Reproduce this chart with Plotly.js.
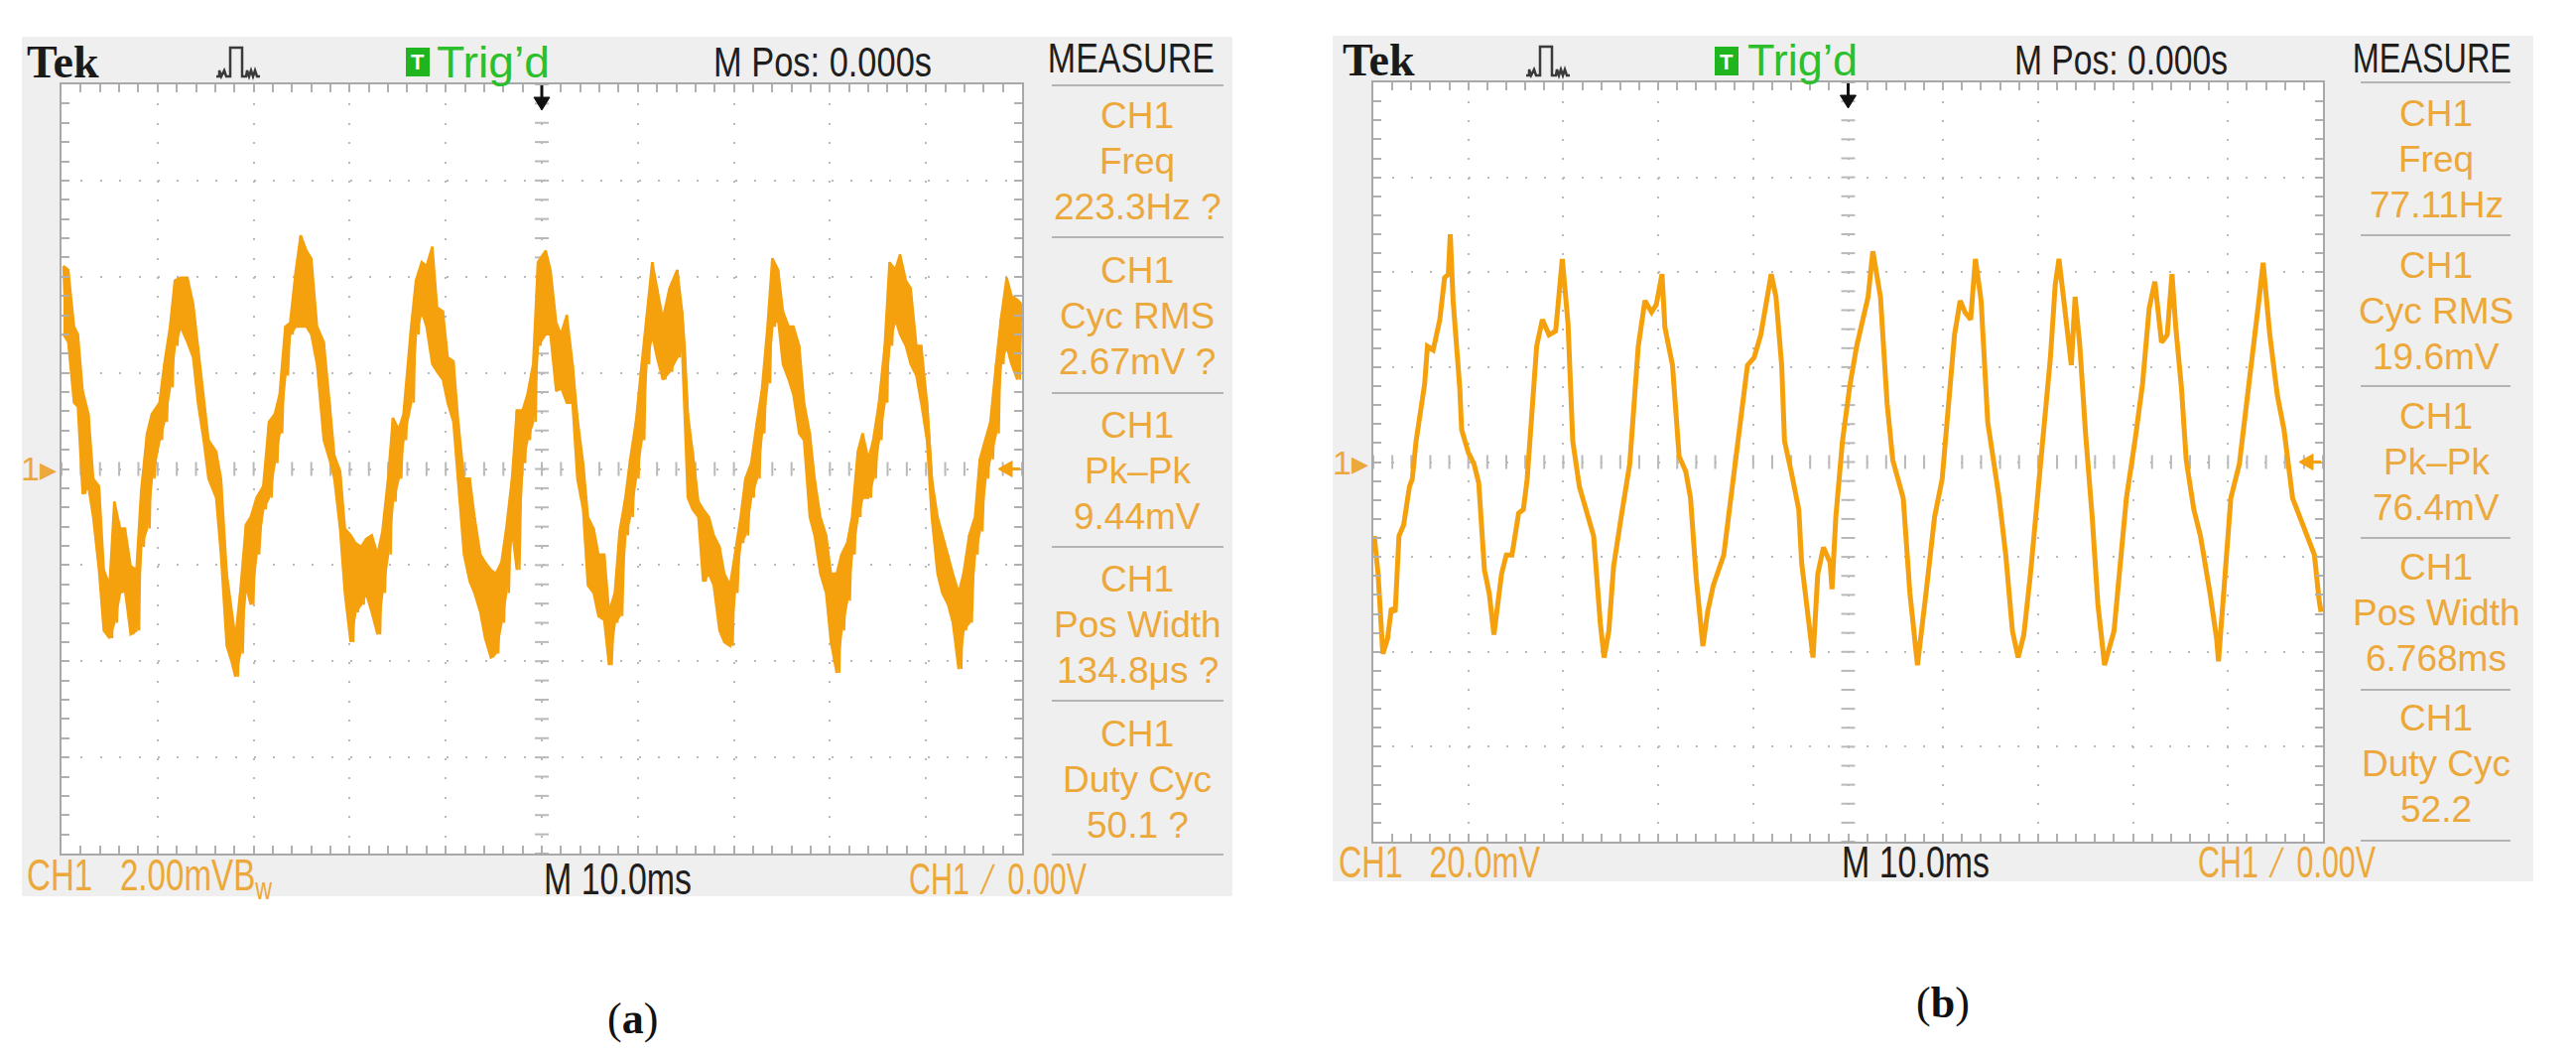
<!DOCTYPE html>
<html>
<head>
<meta charset="utf-8">
<script src="https://cdn.plot.ly/plotly-3.0.1.min.js"></script>
<style>
  html, body { margin: 0; padding: 0; background: #fff; }
  #scope { width: 2596px; height: 1068px; }
</style>
</head>
<body>
<div id="scope"></div>
<script>
// trace (a): screen divisions, upper / lower edge of the noisy band
const aX = [0.02,0.07,0.13,0.17,0.22,0.28,0.33,0.39,0.44,0.50,0.55,0.61,0.66,0.72,0.78,0.83,0.89,0.94,1.02,1.07,
  1.13,1.18,1.24,1.31,1.37,1.42,1.48,1.53,1.61,1.66,1.72,1.77,1.81,1.86,1.92,1.97,2.03,2.10,2.16,2.22,
  2.27,2.33,2.38,2.44,2.49,2.55,2.60,2.66,2.73,2.79,2.84,2.90,2.95,3.01,3.06,3.12,3.17,3.23,3.29,3.34,
  3.40,3.45,3.51,3.56,3.64,3.69,3.75,3.80,3.86,3.91,3.97,4.02,4.08,4.13,4.19,4.25,4.30,4.36,4.41,4.47,
  4.52,4.58,4.63,4.69,4.74,4.80,4.85,4.91,4.96,
  5.04,5.09,5.15,5.20,5.26,5.32,5.37,5.43,5.48,5.54,5.59,5.65,5.70,5.76,5.81,5.87,5.92,5.98,6.04,6.09,
  6.15,6.20,6.26,6.33,6.41,6.46,6.52,6.57,6.63,6.68,6.74,6.79,6.85,6.90,6.96,7.01,7.07,7.12,7.18,7.24,
  7.29,7.35,7.40,7.46,7.51,7.57,7.62,7.68,7.73,7.79,7.84,7.90,7.96,8.01,8.07,8.12,8.18,8.23,8.29,8.34,
  8.40,8.45,8.51,8.57,8.62,8.68,8.73,8.79,8.84,8.90,8.95,9.01,9.06,9.12,9.17,9.23,9.28,9.34,9.39,9.45,
  9.51,9.56,9.62,9.67,9.73,9.78,9.84,9.89,9.95,9.99];
const aHi = [2.11,2.07,1.48,1.40,0.81,0.57,-0.10,-0.18,-1.05,-1.21,-0.34,-0.62,-0.62,-1.01,-1.05,-0.22,0.37,0.57,0.69,1.09,
  1.48,1.96,1.99,1.99,1.72,1.28,0.69,0.30,0.18,-0.10,-1.09,-1.49,-1.76,-1.29,-0.58,-0.50,-0.30,-0.18,0.49,0.57,
  0.77,1.48,1.52,2.07,2.43,2.27,2.19,1.48,1.32,0.69,0.14,-0.02,-0.62,-0.69,-0.77,-0.81,-0.73,-0.69,-0.89,-0.65,
  -0.10,0.53,0.41,0.57,1.48,1.96,2.15,2.11,2.31,1.68,1.64,1.16,1.12,0.49,-0.10,-0.10,-0.50,-0.89,-0.97,-1.05,
  -1.09,-0.97,-0.62,-0.10,0.61,0.61,0.77,1.09,2.15,
  2.27,2.07,1.52,1.40,1.60,1.09,0.53,0.06,-0.50,-0.62,-0.89,-0.89,-1.49,-1.29,-0.65,-0.30,0.10,0.49,1.09,1.56,
  2.15,1.88,1.56,1.88,2.07,1.64,0.57,0.18,-0.34,-0.42,-0.50,-0.69,-0.81,-1.09,-1.21,-0.89,-0.50,-0.10,0.06,0.49,
  0.81,1.48,2.19,2.07,1.64,1.48,1.48,1.28,0.69,0.37,-0.10,-0.50,-0.69,-1.09,-1.09,-0.89,-0.77,-0.50,0.18,0.37,
  0.10,0.30,0.69,1.28,2.15,2.07,2.23,1.96,1.88,1.28,1.28,0.69,-0.10,-0.50,-0.69,-0.89,-1.09,-1.29,-1.09,-0.69,
  -0.50,0.10,0.30,0.49,1.09,1.56,1.99,1.80,1.76,1.72];
const aLo = [1.40,1.32,0.69,0.65,-0.26,-0.18,-0.50,-1.05,-1.68,-1.76,-1.60,-1.29,-1.25,-1.72,-1.68,-0.81,-0.62,-0.10,0.30,0.49,
  0.85,1.28,1.48,1.32,1.16,0.69,0.30,-0.10,-0.30,-0.89,-1.84,-2.00,-2.16,-1.92,-1.21,-1.41,-0.89,-0.42,-0.30,0.06,
  0.37,0.97,1.40,1.48,1.48,1.48,1.40,1.09,0.30,0.10,-0.10,-0.62,-1.29,-1.80,-1.49,-1.41,-1.29,-1.49,-1.72,-1.29,
  -0.89,-0.34,-0.10,0.30,0.69,1.40,1.64,1.48,1.09,1.01,0.93,0.69,0.49,-0.10,-0.89,-1.17,-1.29,-1.49,-1.76,-1.96,
  -1.92,-1.60,-1.29,-0.62,-1.05,0.06,0.30,0.49,1.28,
  1.40,1.40,0.81,0.85,0.69,0.69,-0.10,-0.42,-1.21,-1.29,-1.53,-1.57,-2.04,-1.60,-1.53,-0.69,-0.50,-0.10,0.30,1.09,
  1.40,1.16,0.93,1.01,1.16,1.28,-0.30,-0.42,-0.50,-1.17,-1.09,-1.21,-1.68,-1.80,-1.84,-1.29,-0.77,-0.69,-0.30,-0.10,
  0.37,0.89,1.48,1.56,1.09,0.93,0.77,0.37,0.30,-0.50,-0.69,-1.09,-1.29,-1.80,-2.12,-1.68,-1.37,-0.89,-0.50,-0.30,
  -0.30,-0.10,0.30,0.69,1.28,1.56,1.40,1.28,1.09,0.97,0.69,0.30,-0.50,-1.09,-1.29,-1.41,-1.60,-2.08,-1.68,-1.60,
  -0.89,-0.65,-0.10,0.10,0.37,1.09,1.28,1.09,0.93,1.48];

// trace (b): screen divisions
const bX = [0.01,0.05,0.10,0.15,0.19,0.23,0.27,0.32,0.38,0.41,0.45,0.50,0.54,0.57,0.63,0.70,0.75,0.79,0.81,0.84,
  0.88,0.91,0.93,1.00,1.06,1.11,1.17,1.22,1.27,1.35,1.40,1.46,1.53,1.58,1.62,1.67,1.72,1.78,1.85,1.92,
  1.99,2.05,2.10,2.17,2.24,2.32,2.39,2.43,2.48,2.53,2.61,2.70,2.79,2.86,2.93,2.98,3.04,3.07,3.15,3.22,
  3.29,3.34,3.40,3.47,3.52,3.58,3.69,3.79,3.87,3.94,4.01,4.08,4.19,4.24,4.30,4.33,4.40,4.48,4.51,4.59,
  4.63,4.68,4.74,4.81,4.83,4.87,4.94,5.02,5.09,5.21,5.26,5.34,5.41,5.47,5.58,5.65,5.73,5.82,5.91,5.99,
  6.06,6.12,6.18,6.23,6.29,6.34,6.40,6.47,6.59,6.66,6.73,6.79,6.85,6.92,7.03,7.13,7.18,7.22,7.29,7.35,
  7.39,7.44,7.50,7.57,7.63,7.70,7.80,7.87,7.93,8.02,8.10,8.17,8.23,8.30,8.36,8.41,8.45,8.51,8.56,8.64,
  8.71,8.81,8.88,8.90,8.97,9.03,9.12,9.20,9.27,9.33,9.37,9.44,9.52,9.59,9.68,9.76,9.83,9.91,9.96,9.98];
const bY = [-0.78,-1.18,-2.02,-1.86,-1.54,-1.58,-0.78,-0.66,-0.26,-0.18,0.22,0.54,0.82,1.22,1.18,1.50,1.94,1.98,2.40,1.70,
  1.22,0.78,0.34,0.10,-0.02,-0.22,-1.14,-1.38,-1.82,-1.18,-0.98,-0.98,-0.54,-0.50,-0.18,0.62,1.22,1.50,1.34,1.38,
  2.14,1.46,0.22,-0.26,-0.50,-0.78,-1.70,-2.06,-1.78,-1.10,-0.58,-0.02,1.22,1.70,1.58,1.66,1.98,1.42,1.02,0.06,
  -0.10,-0.38,-1.22,-1.94,-1.58,-1.30,-0.98,-0.22,0.42,1.02,1.10,1.34,1.98,1.74,1.02,0.22,-0.10,-0.50,-1.06,-1.78,
  -2.06,-1.18,-0.90,-1.06,-1.34,-0.58,0.22,0.82,1.22,1.74,2.22,1.74,0.62,0.02,-0.38,-1.38,-2.14,-1.38,-0.58,-0.18,
  0.62,1.34,1.70,1.58,1.50,2.14,1.70,0.42,-0.38,-0.98,-1.78,-2.06,-1.82,-1.18,0.02,1.10,1.86,2.14,1.54,1.02,
  1.74,1.22,0.30,-0.58,-1.50,-2.14,-1.78,-0.98,-0.38,0.22,0.82,1.62,1.90,1.26,1.34,1.98,1.42,0.78,0.02,-0.50,
  -0.78,-1.38,-1.86,-2.10,-1.18,-0.38,-0.02,0.62,1.22,1.74,2.10,1.34,0.70,0.34,-0.38,-0.58,-0.78,-0.98,-1.46,-1.58];

const measureNames = ['Freq', 'Cyc RMS', 'Pk\u2013Pk', 'Pos Width', 'Duty Cyc'];
const measureA = ['223.3Hz ?', '2.67mV ?', '9.44mV', '134.8\u03bcs ?', '50.1 ?'];
const measureB = ['77.11Hz', '19.6mV', '76.4mV', '6.768ms', '52.2'];
const voltsA = 'CH1\u00a0\u00a0\u00a02.00mVB<sub>w</sub>';
const voltsB = 'CH1\u00a0\u00a0\u00a020.0mV';
const timeText = 'M 10.0ms';
const trigText = 'CH1\u00a0\u00a0\u2215\u00a0\u00a00.00V';

const W = 2596, H = 1068;
const PX = v => v / W;
const PY = v => 1 - v / H;

const ORANGE = '#f5a10e';
const ORANGE_TXT = '#eca83a';
const GREEN = '#2cbf2c';
const PANEL = '#efefef';
const GRID = '#b9b9b9';
const SANS = '"Liberation Sans", Arial, sans-serif';
const SERIF = '"Liberation Serif", "DejaVu Serif", serif';

// screen layout of the two captures, in page pixels; [x, width] pairs for the narrow scope texts
const scopes = [
  { panel: [22, 37, 1242, 903], grid: [62, 85, 1030, 860], ax: 'x', ay: 'y', dash: '2px,17.4px',
    head: 62, foot: 885, tek: 25, pulse: 218, tbox: 409, trig: [438, 114], mpos: [717, 220], measure: [1140, 168],
    mx: [1060, 1233], mc: 1146, sep: [86, 239, 396, 551, 706, 861], row0: 117, grp: 155.5,
    volts: [25, 247, voltsA], mTime: [546, 149], trigLvl: [914, 179], values: measureA,
    cap: [637, 1026, '(<b>a</b>)'] },
  { panel: [1343, 36, 2553, 888], grid: [1384, 83, 2341, 848], ax: 'x2', ay: 'y2', dash: '2px,17.1px',
    head: 61, foot: 868, tek: 1351, pulse: 1538, tbox: 1728, trig: [1759, 111], mpos: [2028, 215], measure: [2451, 160],
    mx: [2379, 2530], mc: 2455, sep: [83, 237, 389, 542, 695, 847], row0: 115, grp: 152,
    volts: [1347, 203, voltsB], mTime: [1854, 149], trigLvl: [2213, 179], values: measureB,
    cap: [1958, 1010, '(<b>b</b>)'] }
];

const shapes = [];
const annotations = [];
const fitWidth = {};
const layout = {
  width: W, height: H,
  margin: { l: 0, r: 0, t: 0, b: 0 },
  paper_bgcolor: '#ffffff',
  plot_bgcolor: 'rgba(0,0,0,0)',
  showlegend: false,
  shapes: shapes,
  annotations: annotations
};

// scope text is a narrow face: Liberation glyphs get fitted to the measured width after drawing
function txt(x, y, text, size, color, family, anchor, width) {
  const a = anchor || 'left';
  annotations.push({
    x: PX(x), y: PY(y), xref: 'paper', yref: 'paper', text: text, showarrow: false,
    xanchor: a, yanchor: 'middle', align: a,
    font: { size: size, color: color, family: family }
  });
  if (width) fitWidth[annotations.length - 1] = width;
}

function poly(pts, fill, lineColor, width) {
  shapes.push({ type: 'path', xref: 'paper', yref: 'paper',
    path: 'M' + pts.map(q => PX(q[0]) + ',' + PY(q[1])).join(' L') + (fill ? ' Z' : ''),
    fillcolor: fill || 'rgba(0,0,0,0)', line: { color: lineColor, width: width } });
}

function axisPair(s) {
  const g = s.grid;
  const common = {
    showgrid: true, gridcolor: GRID, gridwidth: 2, griddash: s.dash,
    zeroline: false, showticklabels: false, fixedrange: true,
    showline: true, linecolor: '#a8a8a8', linewidth: 2, mirror: 'ticks',
    ticks: 'inside', ticklen: 8, tickwidth: 2, tickcolor: '#b0b0b0', dtick: 1,
    minor: { dtick: 0.2, ticks: 'inside', ticklen: 8, tickwidth: 2, tickcolor: '#b0b0b0', showgrid: false }
  };
  const xa = Object.assign({}, common, { domain: [PX(g[0]), PX(g[2])], range: [0, 10], anchor: s.ay });
  const ya = Object.assign({}, common, { domain: [PY(g[3]), PY(g[1])], range: [-4, 4], anchor: s.ax, tick0: 0 });
  return [xa, ya];
}

const traces = [];

scopes.forEach((s, i) => {
  const [xa, ya] = axisPair(s);
  layout[i === 0 ? 'xaxis' : 'xaxis2'] = xa;
  layout[i === 0 ? 'yaxis' : 'yaxis2'] = ya;

  const p = s.panel, g = s.grid;
  shapes.push({ type: 'rect', xref: 'paper', yref: 'paper', layer: 'below',
    x0: PX(p[0]), x1: PX(p[2]), y0: PY(p[3]), y1: PY(p[1]), fillcolor: PANEL, line: { width: 0 } });
  shapes.push({ type: 'rect', xref: 'paper', yref: 'paper', layer: 'below',
    x0: PX(g[0]), x1: PX(g[2]), y0: PY(g[3]), y1: PY(g[1]), fillcolor: '#ffffff', line: { width: 0 } });

  // header
  txt(s.tek, s.head, '<b>Tek</b>', 46, '#1a1a1a', SERIF);
  const x0 = s.pulse, yb = s.head + 15, yt = s.head - 14;
  poly([[x0, yb], [x0 + 3, yb], [x0 + 3, yb - 6], [x0 + 5, yb], [x0 + 8, yb - 6], [x0 + 10, yb],
    [x0 + 14, yb], [x0 + 14, yt], [x0 + 26, yt], [x0 + 26, yb], [x0 + 30, yb], [x0 + 31, yb - 6], [x0 + 33, yb],
    [x0 + 35, yb - 6], [x0 + 37, yb], [x0 + 39, yb - 6], [x0 + 41, yb], [x0 + 44, yb]], null, '#3a3a3a', 2.5);
  shapes.push({ type: 'rect', xref: 'paper', yref: 'paper',
    x0: PX(s.tbox), x1: PX(s.tbox + 24), y0: PY(s.head + 15), y1: PY(s.head - 14),
    fillcolor: '#1fb51f', line: { width: 0 } });
  txt(s.tbox + 12, s.head + 1, '<b>T</b>', 22, '#ffffff', SANS, 'center');
  txt(s.trig[0], s.head, 'Trig\u2019d', 44, GREEN, SANS, 'left', s.trig[1]);
  txt(s.mpos[0], s.head, 'M Pos: 0.000s', 42, '#1e1e1e', SANS, 'left', s.mpos[1]);
  txt(s.measure[0], s.head - 3, 'MEASURE', 42, '#1e1e1e', SANS, 'center', s.measure[1]);

  // measurement column
  s.sep.forEach(y => shapes.push({ type: 'line', xref: 'paper', yref: 'paper',
    x0: PX(s.mx[0]), x1: PX(s.mx[1]), y0: PY(y), y1: PY(y), line: { color: '#b4b4b4', width: 2 } }));
  measureNames.forEach((name, k) => {
    const y = s.row0 + k * s.grp;
    txt(s.mc, y, 'CH1', 37, ORANGE_TXT, SANS, 'center');
    txt(s.mc, y + 46, name, 37, ORANGE_TXT, SANS, 'center');
    txt(s.mc, y + 92, s.values[k], 37, ORANGE_TXT, SANS, 'center');
  });

  // footer
  txt(s.volts[0], s.foot, s.volts[2], 44, ORANGE_TXT, SANS, 'left', s.volts[1]);
  txt(s.mTime[0], s.foot, timeText, 44, '#1e1e1e', SANS, 'left', s.mTime[1]);
  txt(s.trigLvl[0], s.foot, trigText, 44, ORANGE_TXT, SANS, 'left', s.trigLvl[1]);

  // channel marker, trigger level and trigger position arrows
  const gy = (g[1] + g[3]) / 2;
  txt(g[0] - 3, gy, '1\u25B8', 34, ORANGE_TXT, SANS, 'right');
  poly([[g[2] - 24, gy], [g[2] - 10, gy - 8], [g[2] - 10, gy + 8]], ORANGE, ORANGE, 1);
  poly([[g[2] - 12, gy], [g[2] - 2, gy]], null, ORANGE, 3);
  const cx = (g[0] + g[2]) / 2;
  poly([[cx, g[1] + 1], [cx, g[1] + 16]], null, '#111111', 3);
  poly([[cx - 8, g[1] + 13], [cx + 8, g[1] + 13], [cx, g[1] + 26]], '#111111', '#111111', 1);

  // caption
  txt(s.cap[0], s.cap[1], s.cap[2], 44, '#111111', SERIF, 'center');

  // center cross minor ticks
  const ty = [], tx = [];
  for (let k = -20; k <= 20; k++) ty.push(k / 5);
  for (let k = 0; k <= 50; k++) tx.push(k / 5);
  traces.push({ x: ty.map(() => 5), y: ty, xaxis: s.ax, yaxis: s.ay, mode: 'markers', hoverinfo: 'skip',
    marker: { symbol: 'line-ew', size: 10, color: GRID, line: { width: 2, color: GRID } } });
  traces.push({ x: tx, y: tx.map(() => 0), xaxis: s.ax, yaxis: s.ay, mode: 'markers', hoverinfo: 'skip',
    marker: { symbol: 'line-ns', size: 10, color: GRID, line: { width: 2, color: GRID } } });
});

// trace (a): solid band between the edges, plus the spikes stroked from edge to edge
traces.push({ x: aX, y: aHi, xaxis: 'x', yaxis: 'y', mode: 'lines', hoverinfo: 'skip',
  line: { color: ORANGE, width: 2.5 } });
traces.push({ x: aX, y: aLo, xaxis: 'x', yaxis: 'y', mode: 'lines', hoverinfo: 'skip',
  fill: 'tonexty', fillcolor: ORANGE, line: { color: ORANGE, width: 2.5 } });
const bandX = [], bandY = [];
aX.forEach((x, i) => {
  bandX.push(x, x + 0.027);
  bandY.push(aHi[i], aLo[i]);
});
traces.push({ x: bandX, y: bandY, xaxis: 'x', yaxis: 'y', mode: 'lines', hoverinfo: 'skip',
  line: { color: ORANGE, width: 2.4 } });
traces.push({ x: bX, y: bY, xaxis: 'x2', yaxis: 'y2', mode: 'lines', hoverinfo: 'skip',
  line: { color: ORANGE, width: 5 } });

Plotly.newPlot('scope', traces, layout, { staticPlot: true, displayModeBar: false }).then(gd => {
  gd.querySelectorAll('g.annotation').forEach((grp, n) => {
    const idx = grp.hasAttribute('data-index') ? +grp.getAttribute('data-index') : n;
    const w = fitWidth[idx];
    if (!w) return;
    const t = grp.querySelector('text.annotation-text');
    if (!t) return;
    t.setAttribute('textLength', w);
    t.setAttribute('lengthAdjust', 'spacingAndGlyphs');
  });
});
</script>
</body>
</html>
